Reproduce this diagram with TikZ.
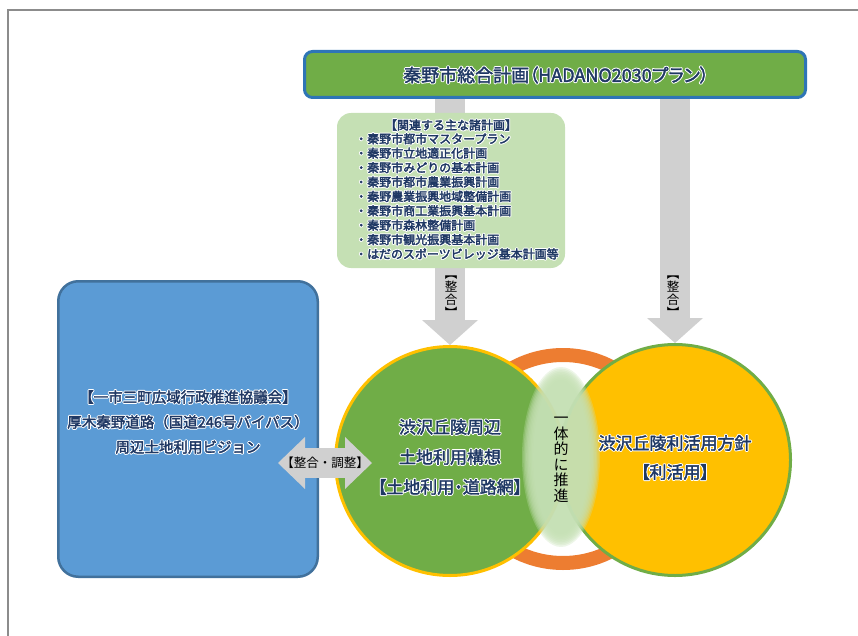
\documentclass[tikz,border=0pt]{standalone}
\usepackage{fontspec}
\setmainfont{Noto Sans CJK JP}
\newfontfamily\pfont[RawFeature=+palt]{Noto Sans CJK JP}
\usetikzlibrary{arrows.meta,calc}
\definecolor{navy}{HTML}{1F3864}
\definecolor{cgreen}{HTML}{70AD47}
\definecolor{cyellow}{HTML}{FFC000}
\definecolor{lgreen}{HTML}{C5E0B4}
\definecolor{ringc}{HTML}{ED7D31}
\definecolor{bluef}{HTML}{5B9BD5}
\definecolor{blued}{HTML}{41719C}
\definecolor{topbord}{HTML}{2E75B6}
\definecolor{grayarrow}{HTML}{D0D0D0}
\definecolor{framec}{HTML}{8C8C8C}
\newcommand\gl[1]{\leavevmode\rlap{\special{pdf:literal direct 1 Tr 2.4 w 1 j 1 1 1 RG}#1\special{pdf:literal direct 0 Tr}}{\special{pdf:literal direct 2 Tr 0.35 w 1 j 0.122 0.22 0.392 RG}#1\special{pdf:literal direct 0 Tr}}}
\begin{document}
\begin{tikzpicture}[x=1pt,y=-1pt,
  navytxt/.style={text=navy, align=center, inner sep=0pt},
  garrow/.style={draw=grayarrow, line width=30pt, -{Triangle[width=56pt,length=25pt,line width=0pt]}},
  garrow2/.style={draw=grayarrow, line width=30pt, {Triangle[width=52pt,length=27pt,line width=0pt]}-{Triangle[width=52pt,length=27pt,line width=0pt]}},
  vtxt/.style={font=\fontsize{12.5}{13}\selectfont, align=center, inner sep=0pt}]
\useasboundingbox (0,0) rectangle (858,636);
\draw[framec, line width=1.2pt] (858,10) -- (8,10) -- (8,636);

% ring and circles
\node[circle, draw=ringc, line width=14pt, minimum size=208pt, inner sep=0pt] (ring) at (563,459) {};
\node[circle, fill=cgreen, draw=cyellow, line width=3pt, minimum size=229pt, inner sep=0pt] (gc) at (450,461) {};
\node[circle, fill=cyellow, draw=cgreen, line width=3pt, minimum size=231pt, inner sep=0pt] (yc) at (675,460) {};
\foreach \i in {0,...,8}
  \fill[lgreen, fill opacity=0.3] (561,457) ellipse [x radius={39-1.4*\i}, y radius={90-1.6*\i}];
\node[font=\fontsize{15}{15.5}\selectfont, align=center, inner sep=0pt] (ittai) at (561,460) {一\\体\\的\\に\\推\\進};

% top box
\node[rounded corners=8pt, fill=cgreen, draw=topbord, line width=3pt, minimum width=501pt, minimum height=46pt, inner sep=0pt] (top) at (555,74.5) {};
\node[navytxt, font=\pfont\fontsize{18}{20}\selectfont] (toptxt) at (556,75) {\gl{秦野市総合計画（HADANO2030プラン）}};

% vertical arrows
\draw[garrow] (top.south -| gc.north) -- (gc.north);
\draw[garrow] (top.south -| yc.north) -- (yc.north);
\node[vtxt] (a1txt) at (451,297) {︻\\整\\合\\︼};
\node[vtxt] (a2txt) at (673,297) {︻\\整\\合\\︼};

% related plans box
\node[rounded corners=14pt, fill=lgreen, minimum width=228pt, minimum height=155pt, inner sep=0pt] (plans) at (451,190.5) {};
\node[navytxt, font=\fontsize{12}{14.4}\selectfont] (plantitle) at (451,125) {\gl{【関連する主な諸計画】}};
\node[anchor=north west, font=\fontsize{12}{14.4}\selectfont, align=left, text=navy, inner sep=0pt] (planlist) at (355,133) {\gl{・秦野市都市マスタープラン}\\\gl{・秦野市立地適正化計画}\\\gl{・秦野市みどりの基本計画}\\\gl{・秦野市都市農業振興計画}\\\gl{・秦野農業振興地域整備計画}\\\gl{・秦野市商工業振興基本計画}\\\gl{・秦野市森林整備計画}\\\gl{・秦野市観光振興基本計画}\\\gl{・はだのスポーツビレッジ基本計画等}};

% blue box
\node[rounded corners=20pt, fill=bluef, draw=blued, line width=2.5pt, minimum width=259.5pt, minimum height=295.5pt, inner sep=0pt] (blue) at (188,429) {};
\node[navytxt, font=\fontsize{14.5}{25}\selectfont] (bluetxt) at (188,422) {\gl{【一市三町広域行政推進協議会】}\\\gl{厚木秦野道路（国道246号バイパス）}\\\gl{周辺土地利用ビジョン}};

% double arrow
\coordinate (dl) at (278,463);
\coordinate (dr) at (372,463);
\draw[garrow2] (dl) -- (dr);
\node[font=\fontsize{12.5}{14}\selectfont, inner sep=0pt] (adj) at (325,463) {【整合・調整】};

% circle texts
\node[navytxt, font=\pfont\fontsize{17}{30}\selectfont] (gctxt) at (450,457) {\gl{渋沢丘陵周辺}\\\gl{土地利用構想}\\\gl{【土地利用・道路網】}};
\node[navytxt, font=\pfont\fontsize{17}{29}\selectfont] (yctxt) at (675,457.5) {\gl{渋沢丘陵利活用方針}\\\gl{【利活用】}};
\end{tikzpicture}
\end{document}
